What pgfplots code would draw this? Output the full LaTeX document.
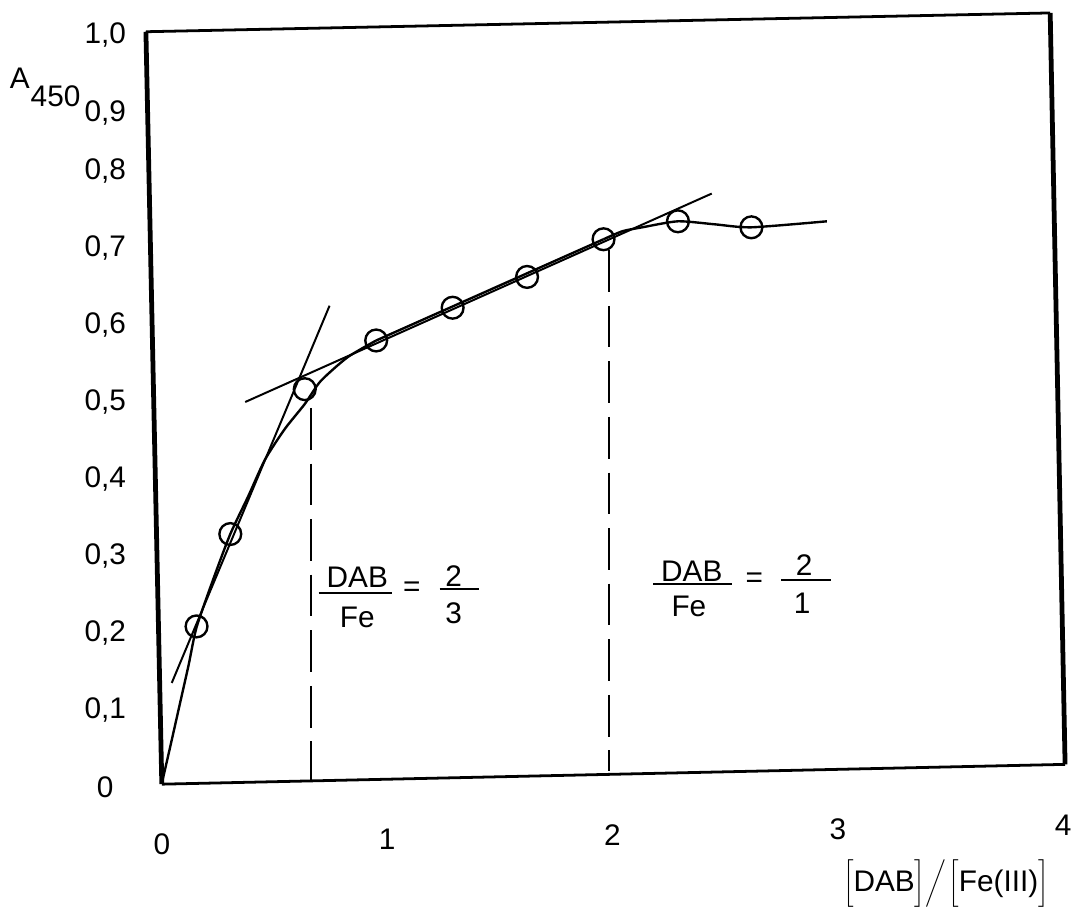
\documentclass[border=0pt]{standalone}
\usepackage{pgfplots}
\pgfplotsset{compat=1.18}
\usepackage{fontspec}
\setmainfont{Liberation Sans}
\newcommand\fs{\fontsize{15}{18}\selectfont}
\newcommand\tall{\rule[-5pt]{0pt}{21pt}}
\begin{document}
\begin{tikzpicture}[lbl/.style={font=\fs, inner sep=0pt, anchor=center}]
\begin{axis}[
  scale only axis, width=539pt, height=456.5pt,
  xmin=-0.7181, xmax=4.0308, ymin=-0.1546, ymax=1.0219,
  axis line style={draw=none}, tick style={draw=none},
  clip=false,
  xtick={0,1,2,3,4},
  xticklabels={\raisebox{-2.5pt}{0},1,\raisebox{2pt}{2},\raisebox{5pt}{3},\raisebox{7pt}{4}},
  xticklabel style={anchor=base, yshift=28.5pt, font=\fs},
  ytick={0,0.1,0.2,0.3,0.4,0.5,0.6,0.7,0.8,0.875,0.977},
  yticklabels={0,{0,1},{0,2},{0,3},{0,4},{0,5},{0,6},{0,7},{0,8},{0,9},{1,0}},
  yticklabel style={anchor=center, xshift=53pt, font=\fs},
]
% frame (scanned, slightly rotated)
\draw[line width=2.4pt] (axis cs:-0.0705,0.9807) -- (axis cs:0.0,0.0039);
\draw[line width=2.4pt] (axis cs:3.9427,1.0051) -- (axis cs:4.0088,0.0296);
\draw[line width=1.4pt] (axis cs:-0.0705,0.9807) -- (axis cs:3.9427,1.0051);
\draw[line width=1.4pt] (axis cs:0.0,0.0039) -- (axis cs:4.0088,0.0296);

% main curve
\addplot[black, line width=1.2pt, smooth, tension=0.4] coordinates {
(0.0044,0.0104) (0.0396,0.0554) (0.0793,0.1070) (0.1189,0.1585) (0.1542,0.2075)
(0.2291,0.2706) (0.3040,0.3286) (0.3833,0.3775) (0.4581,0.4253) (0.5463,0.4652)
(0.6344,0.4974) (0.7048,0.5271) (0.8238,0.5580) (0.9515,0.5799)};
\addplot[black, line width=1.2pt] coordinates {(0.9515,0.5799) (1.9604,0.7113)};
\addplot[black, line width=1.2pt, smooth, tension=0.4] coordinates {
(1.9604,0.7113) (2.0441,0.7217) (2.1322,0.7268) (2.2907,0.7346) (2.4537,0.7307) (2.6167,0.7268) (2.9515,0.7346)};

% tangents
\addplot[black, line width=1pt] coordinates {(0.0441,0.1353) (0.7445,0.6250)};
\addplot[black, line width=1pt] coordinates {(0.3700,0.5000) (2.4405,0.7706)};

% dashed verticals
\addplot[black, line width=1pt, dash pattern=on 21pt off 7pt] coordinates {(0.6608,0.4923) (0.6608,0.0077)};
\addplot[black, line width=1pt, dash pattern=on 21pt off 7pt] coordinates {(1.9868,0.6971) (1.9868,0.0206)};

% measured points
\addplot[only marks, mark=o, mark size=5.5pt, mark options={line width=1.2pt, black}] coordinates {
(0.1542,0.2087) (0.3040,0.3286) (0.6344,0.5167) (0.9515,0.5799) (1.2907,0.6224)
(1.6211,0.6624) (1.9604,0.7113) (2.2907,0.7346) (2.6167,0.7268)};

% y axis label
\node[lbl] at (axis cs:-0.6300,0.9202) {A};
\node[lbl] at (axis cs:-0.4714,0.8969) {450};

% annotation 1
\node[lbl] at (axis cs:0.8678,0.2719) {DAB};
\draw[line width=1pt] (axis cs:0.6960,0.2526) -- (axis cs:1.0220,0.2526);
\node[lbl] at (axis cs:0.8678,0.2204) {Fe};
\node[lbl] at (axis cs:1.1101,0.2564) {=};
\node[lbl] at (axis cs:1.2952,0.2745) {2};
\draw[line width=1pt] (axis cs:1.2335,0.2578) -- (axis cs:1.4097,0.2578);
\node[lbl] at (axis cs:1.2952,0.2255) {3};

% annotation 2
\node[lbl] at (axis cs:2.3524,0.2809) {DAB};
\draw[line width=1pt] (axis cs:2.1806,0.2641) -- (axis cs:2.5286,0.2641);
\node[lbl] at (axis cs:2.3392,0.2345) {Fe};
\node[lbl] at (axis cs:2.6300,0.2693) {=};
\node[lbl] at (axis cs:2.8502,0.2886) {2};
\draw[line width=1pt] (axis cs:2.7489,0.2693) -- (axis cs:2.9692,0.2693);
\node[lbl] at (axis cs:2.8414,0.2384) {1};

% x axis label
\node[lbl] at (axis cs:3.48,-0.1250) {$\left[\tall\mbox{DAB}\right]\!\left/\tall\right.\!\left[\tall\mbox{Fe(III)}\right]$};
\end{axis}
\end{tikzpicture}
\end{document}
